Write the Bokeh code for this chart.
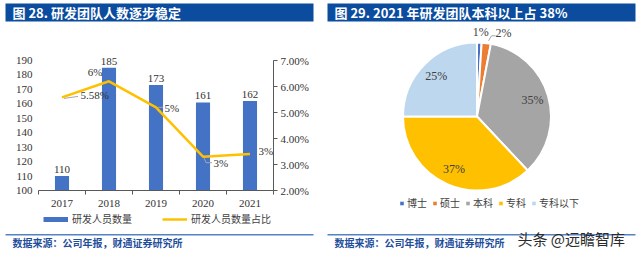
import math

from bokeh.core.properties import value
from bokeh.embed import file_html
from bokeh.layouts import column, row
from bokeh.models import (ColumnDataSource, FixedTicker, Legend, LegendItem,
                          LinearAxis, NumeralTickFormatter, Range1d)
from bokeh.plotting import figure
from bokeh.resources import INLINE

# ---- data -------------------------------------------------------------
years = ["2017", "2018", "2019", "2020", "2021"]
staff = [110, 185, 173, 161, 162]            # R&D headcount
staff_ratio = [5.58, 6.2, 5.2, 3.3, 3.4]      # share of all employees, %
ratio_decimals = [2, 0, 0, 0, 0]              # decimals shown in each label
staff_ticks = [100, 110, 120, 130, 140, 150, 160, 170, 180, 190]
ratio_ticks = [2, 3, 4, 5, 6, 7]              # %

degrees = ["博士", "硕士", "本科", "专科", "专科以下"]
degree_share = [1, 2, 35, 37, 25]             # %

# ---- styling ----------------------------------------------------------
BLUE = "#4472C4"
GOLD = "#FFC000"
PIE_COLORS = ["#4472C4", "#ED7D31", "#A5A5A5", "#FFC000", "#BDD7EE"]
HEAD_BLUE = "#0B4C9E"
SRC_BLUE = "#1F4E9B"
RULE_BLUE = "#5482C4"
AXIS = "#595959"
TEXT = "#333333"
CJK = "Noto Sans CJK SC"
SERIF = "Liberation Serif"

W = 320
TOP_H, CHART_H, FOOT_H = 24, 186, 43      # 24 + 186 + 43 = 253
PAGE_H = TOP_H + CHART_H + FOOT_H
OFF = (-100, -99)                          # keeps legend-only swatches out of view


def strip(height):
    """A plain drawing strip whose data units are pixels (y up)."""
    s = figure(width=W, height=height, x_range=Range1d(0, W), y_range=Range1d(0, height),
               x_axis_location=None, y_axis_location=None, min_border=0, title=None,
               frame_align=False, output_backend="svg", toolbar_location=None)
    s.outline_line_color = None
    s.grid.visible = False
    return s


def title_strip(x0, x1, title):
    s = strip(TOP_H)
    s.quad(left=x0, right=x1, bottom=TOP_H - 21, top=TOP_H - 3,
           fill_color=HEAD_BLUE, line_color=None)
    s.text(x=x0 + 7, y=TOP_H - 12, text=[title], text_font=value(CJK),
           text_font_size="13px", text_font_style="bold", text_color="white",
           text_baseline="middle")
    return s


def foot_strip(x0, x1):
    s = strip(FOOT_H)
    s.quad(left=x0, right=x1, bottom=PAGE_H - 235, top=PAGE_H - 233.5,
           fill_color=RULE_BLUE, line_color=None)
    s.text(x=x0 + 7, y=PAGE_H - 242, text=["数据来源：公司年报，财通证券研究所"],
           text_font=value(CJK), text_font_size="10px", text_font_style="bold",
           text_color=SRC_BLUE, text_baseline="middle")
    return s


# ---- left: headcount bars + share line ---------------------------------
FL, FR = 38, 273            # frame edges, px
FT, FB = TOP_H, 190         # frame top / bottom on the page, px
n = len(years)
px_x = (FR - FL) / n                      # px per category slot
px_staff = (FB - 60) / (190 - 100)        # px per head
px_pct = (FB - 60) / 0.05                 # px per unit of share
staff_top = 190 + (60 - FT) / px_staff
pct_top = 0.07 + (60 - FT) / px_pct

centers = [i + 0.5 for i in range(n)]
ratio = [r / 100 for r in staff_ratio]

p1 = figure(width=W, height=CHART_H, x_range=Range1d(0, n), y_range=Range1d(100, staff_top),
            x_axis_location=None, y_axis_location=None, title=None, frame_align=False,
            min_border_left=FL, min_border_right=W - FR,
            min_border_top=0, min_border_bottom=TOP_H + CHART_H - FB,
            output_backend="svg", toolbar_location=None)
p1.extra_y_ranges = {"pct": Range1d(0.02, pct_top)}
p1.outline_line_color = None
p1.grid.visible = False

yaxis = LinearAxis(ticker=FixedTicker(ticks=staff_ticks), bounds=(100, 190),
                   axis_line_color=None, major_tick_out=0, major_tick_in=0,
                   major_tick_line_color=None, minor_tick_line_color=None,
                   major_label_standoff=6, major_label_text_font=SERIF,
                   major_label_text_font_size="11px", major_label_text_color=TEXT)
p1.add_layout(yaxis, "left")

raxis = LinearAxis(y_range_name="pct",
                   ticker=FixedTicker(ticks=[t / 100 for t in ratio_ticks]),
                   formatter=NumeralTickFormatter(format="0.00%"),
                   bounds=(0.02, 0.07), axis_line_color=AXIS,
                   major_tick_out=4, major_tick_in=0, major_tick_line_color=AXIS,
                   minor_tick_line_color=None, major_label_standoff=3,
                   major_label_text_font=SERIF, major_label_text_font_size="11px",
                   major_label_text_color=TEXT)
p1.add_layout(raxis, "right")

xaxis = LinearAxis(ticker=FixedTicker(ticks=centers, minor_ticks=list(range(n + 1))),
                   major_label_overrides={c: y for c, y in zip(centers, years)},
                   axis_line_color=AXIS, major_tick_out=0, major_tick_in=0,
                   minor_tick_out=4, minor_tick_in=0, minor_tick_line_color=AXIS,
                   major_label_standoff=5, major_label_text_font=SERIF,
                   major_label_text_font_size="11px", major_label_text_color=TEXT)
p1.add_layout(xaxis, "below")

p1.vbar(x=centers, top=staff, bottom=100, width=0.3, fill_color=BLUE, line_color=None)
p1.text(x=centers, y=staff, text=[str(v) for v in staff], text_align="center",
        text_baseline="bottom", y_offset=-3, text_font=value(SERIF),
        text_font_size="11px", text_color=TEXT)

p1.line(x=centers, y=ratio, y_range_name="pct", line_color=GOLD, line_width=2.5)

# leader lines from the share points to their labels (offsets in px)
leaders = {0: [(2, 1), (16, -1)], 2: [(2, 0), (7, 0)], 3: [(1, 1), (3, 6), (9, 6)]}
p1.multi_line(xs=[[centers[i] + dx / px_x for dx, _ in pts] for i, pts in leaders.items()],
              ys=[[ratio[i] - dy / px_pct for _, dy in pts] for i, pts in leaders.items()],
              y_range_name="pct", line_color="#A6A6A6", line_width=1)

lab_src = ColumnDataSource(dict(
    x=centers, y=ratio,
    text=[f"{v:.{d}f}%" for v, d in zip(staff_ratio, ratio_decimals)],
    dx=[18.5, -6.5, 8.5, 10.5, 8.5],
    dy=[-2, -9, 1, 6, -3],
    align=["left", "right", "left", "left", "left"],
))
p1.text(x="x", y="y", text="text", x_offset="dx", y_offset="dy", text_align="align",
        text_baseline="middle", source=lab_src, y_range_name="pct",
        text_font=value(SERIF), text_font_size="11px", text_color=TEXT)

t1 = title_strip(5, 313, "图 28. 研发团队人数逐步稳定")
f1 = foot_strip(5, 313)
# legend swatches styled like the bars and the share line
bar_key = f1.line(x=list(OFF), y=list(OFF), line_color=BLUE, line_width=5)
line_key = f1.line(x=list(OFF), y=list(OFF), line_color=GOLD, line_width=2.5)
leg1 = Legend(items=[LegendItem(label="研发人员数量", renderers=[bar_key]),
                     LegendItem(label="研发人员数量占比", renderers=[line_key])],
              orientation="horizontal", location=(43, PAGE_H - 226), glyph_width=25,
              glyph_height=10, label_height=10, label_standoff=4, spacing=30,
              padding=0, margin=0, border_line_color=None, background_fill_alpha=0,
              label_text_font=CJK, label_text_font_size="10px", label_text_color="#404040")
f1.add_layout(leg1, "center")

# ---- right: degree mix pie ---------------------------------------------
# data units are page pixels: x from the panel's left edge, y up from the chart band bottom
BAND_BOTTOM = TOP_H + CHART_H
p2 = figure(width=W, height=CHART_H, x_range=Range1d(0, W), y_range=Range1d(0, CHART_H),
            x_axis_location=None, y_axis_location=None, min_border=0, title=None,
            frame_align=False, output_backend="svg", toolbar_location=None)
p2.outline_line_color = None
p2.grid.visible = False

CX, CY, R = 156.5, BAND_BOTTOM - 116, 74
cum = [0]
for s in degree_share:
    cum.append(cum[-1] + s)
total = cum[-1]
starts = [math.radians(90 - 360 * cum[i + 1] / total) for i in range(len(degrees))]
ends = [math.radians(90 - 360 * cum[i] / total) for i in range(len(degrees))]
pie_src = ColumnDataSource(dict(start=starts, end=ends, color=PIE_COLORS, name=degrees))
p2.wedge(x=CX, y=CY, radius=R, start_angle="start", end_angle="end",
         direction="anticlock", fill_color="color", line_color="white",
         line_width=2, source=pie_src)

# value labels: inside for large slices, outside for the thin ones
mid = [math.radians(90 - 360 * (cum[i] + cum[i + 1]) / 2 / total) for i in range(len(degrees))]
rfac = [1.14 if s < 5 else 0.78 for s in degree_share]
shift = [1, 16, 0, 0, 0]
lx = [CX + R * f * math.cos(a) + s for a, f, s in zip(mid, rfac, shift)]
ly = [CY + R * f * math.sin(a) for a, f in zip(mid, rfac)]
p2.text(x=lx, y=ly, text=[f"{s}%" for s in degree_share], text_align="center",
        text_baseline="middle", text_font=value(SERIF), text_font_size="12px",
        text_color="#404040")
p2.line(x=[lx[1] - 15, lx[1] - 12, lx[1] - 8], y=[ly[1] - 8, ly[1] - 3, ly[1] - 3],
        line_color="#A6A6A6", line_width=1)

swatches = [p2.scatter(x=[OFF[0]], y=[OFF[0]], marker="square", size=4,
                       fill_color=c, line_color=None) for c in PIE_COLORS]
leg2 = Legend(items=[LegendItem(label=d, renderers=[r]) for d, r in zip(degrees, swatches)],
              orientation="horizontal", location=(77, BAND_BOTTOM - 210), glyph_width=9,
              glyph_height=10, label_height=10, label_standoff=1, spacing=3,
              padding=0, margin=0, border_line_color=None, background_fill_alpha=0,
              label_text_font=CJK, label_text_font_size="10px", label_text_color="#404040")
p2.add_layout(leg2, "center")

t2 = title_strip(7, 315, "图 29. 2021 年研发团队本科以上占 38%")
f2 = foot_strip(7, 315)
f2.text(x=197, y=PAGE_H - 238, text=["头条 @远瞻智库"],
        text_font=value(CJK), text_font_size="15px", text_color="#2B2B2B",
        text_baseline="middle")

layout = row(column(t1, p1, f1), column(t2, p2, f2))
open("out.html", "w").write(file_html(layout, INLINE))
